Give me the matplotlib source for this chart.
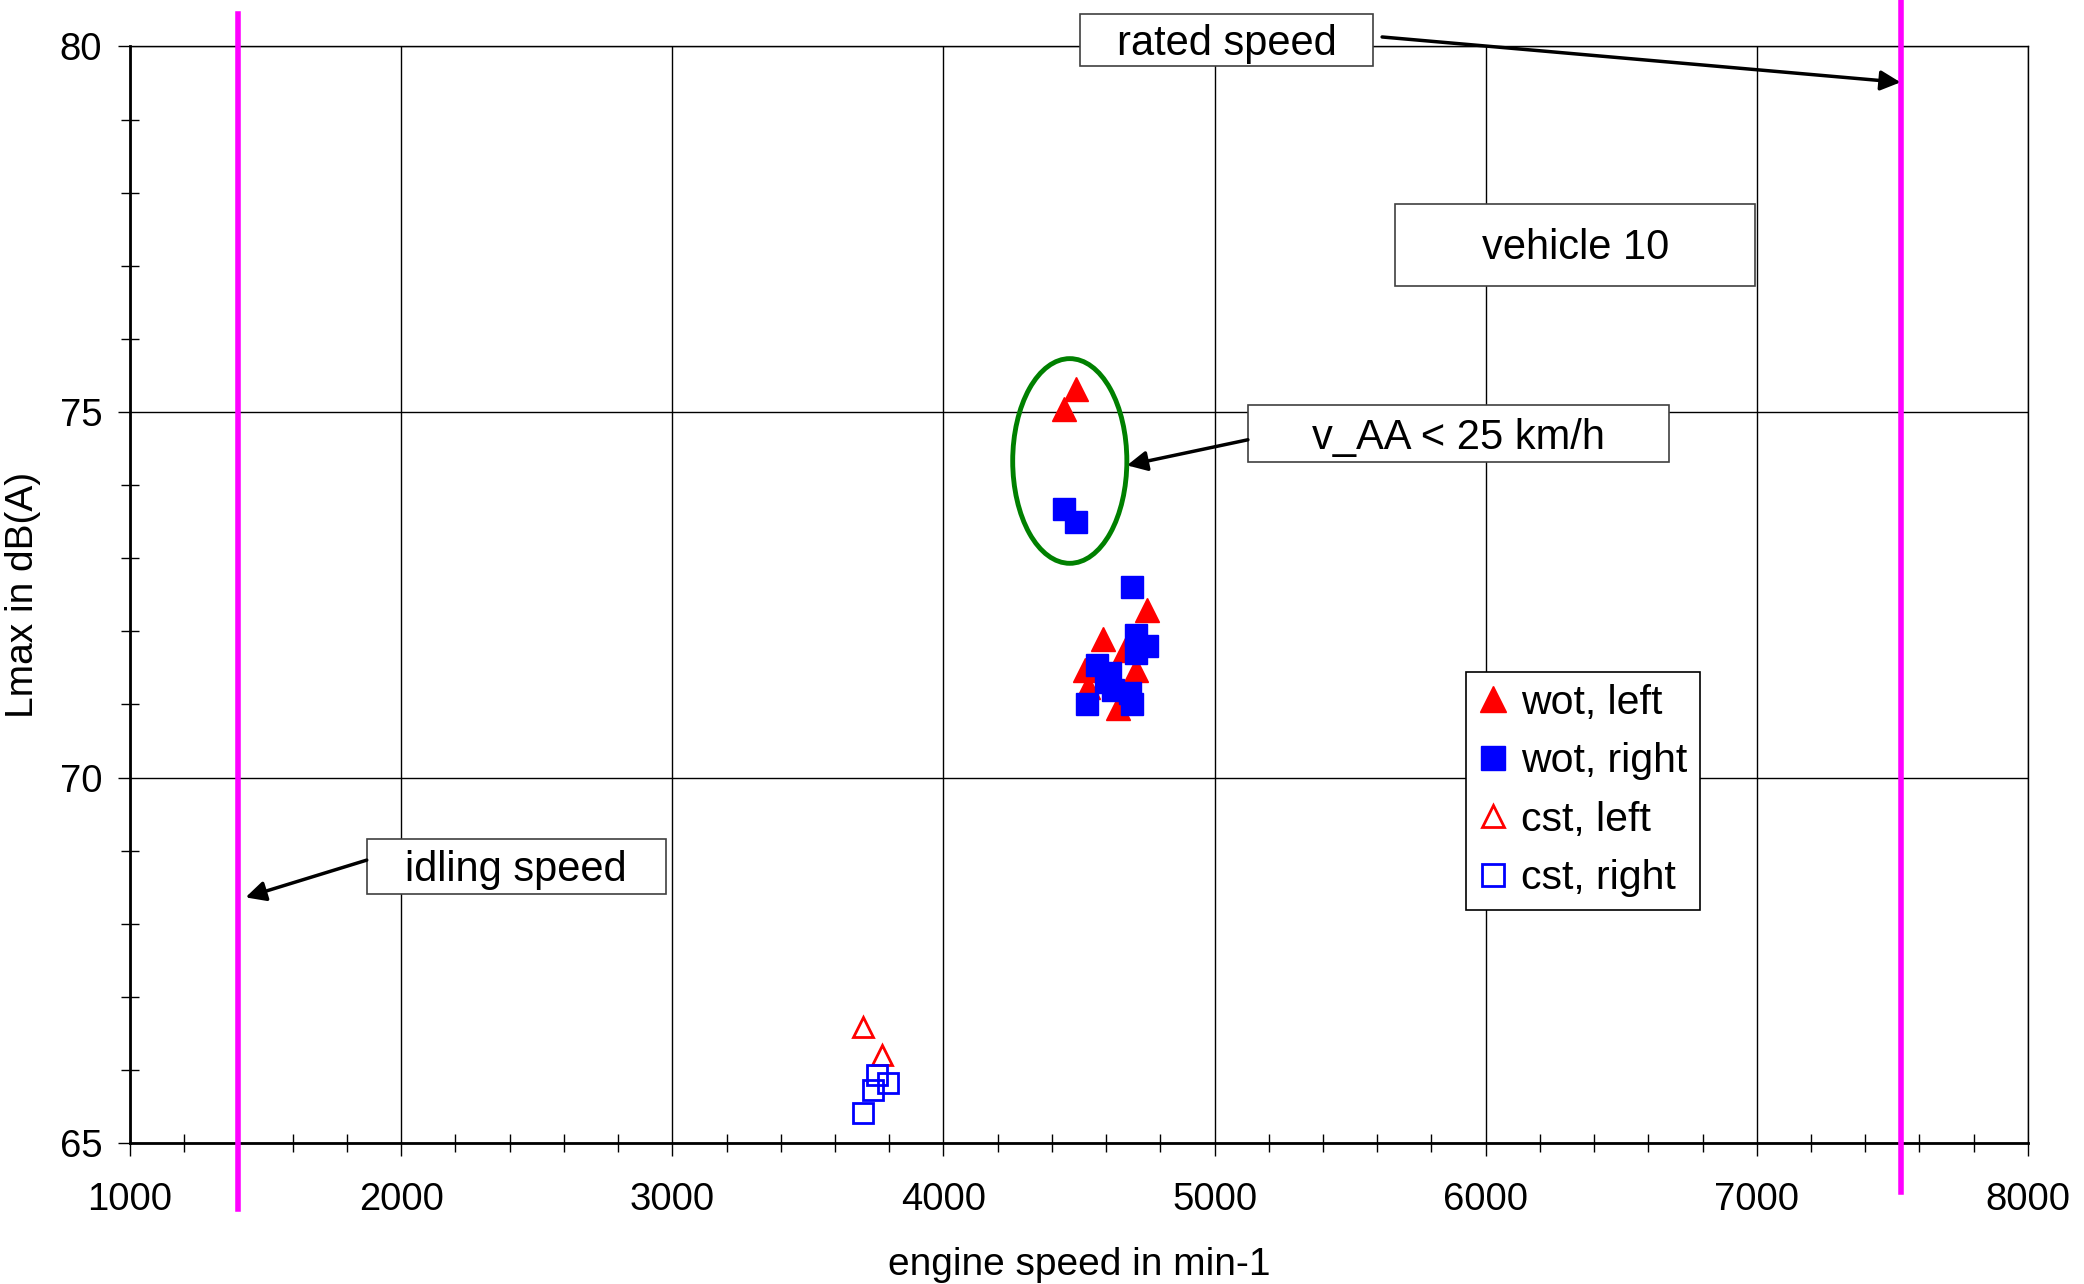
import matplotlib
matplotlib.use('Agg')
from matplotlib import pyplot as plt
from matplotlib.patches import Ellipse, Rectangle
from matplotlib.ticker import MultipleLocator

plt.rcParams['font.family'] = ['Liberation Sans', 'DejaVu Sans']

# engine speed (min-1) and Lmax (dB(A))
wot_left_x = [4490, 4446, 4752, 4590, 4522, 4712, 4670, 4533, 4645]
wot_left_y = [75.31, 75.04, 72.29, 71.89, 71.47, 71.47, 71.74, 71.24, 70.95]
wot_right_x = [4446, 4490, 4694, 4712, 4750, 4712, 4565, 4614, 4531, 4688, 4694, 4627, 4600]
wot_right_y = [73.67, 73.49, 72.61, 71.95, 71.80, 71.70, 71.54, 71.43, 71.01, 71.15, 71.01, 71.20, 71.30]
cst_left_x = [3704, 3772]
cst_left_y = [66.59, 66.20]
cst_right_x = [3754, 3797, 3741, 3702]
cst_right_y = [65.93, 65.82, 65.72, 65.41]

idle_speed = 1400
rated_speed = 7530

fig = plt.figure(figsize=(20.84, 12.84), dpi=100)
ax = fig.add_axes([0.0624, 0.1098, 0.9107, 0.854])
ax.set_xlim(1000, 8000)
ax.set_ylim(65, 80)

ax.xaxis.set_major_locator(MultipleLocator(1000))
ax.xaxis.set_minor_locator(MultipleLocator(200))
ax.yaxis.set_major_locator(MultipleLocator(5))
ax.yaxis.set_minor_locator(MultipleLocator(1))
ax.grid(True, which='major', color='black', linewidth=1.0)
ax.set_axisbelow(True)
ax.tick_params(which='major', direction='out', length=9, width=1, labelsize=27.5)
ax.tick_params(axis='x', which='major', pad=19)
ax.tick_params(axis='y', which='major', pad=11)
ax.tick_params(which='minor', direction='inout', length=13, width=1)
for s in ['left', 'bottom']:
    ax.spines[s].set_linewidth(2)
for s in ['top', 'right']:
    ax.spines[s].set_linewidth(1)

# idling / rated speed lines, running past the plot area
ax.axvline(idle_speed, ymin=-0.06, ymax=1.03, color='#FF00FF', linewidth=4, clip_on=False, zorder=3)
ax.axvline(rated_speed, ymin=-0.045, ymax=1.045, color='#FF00FF', linewidth=4, clip_on=False, zorder=3)

ax.plot(wot_left_x, wot_left_y, '^', color='red', markersize=17, linestyle='none', label='wot, left', zorder=4)
ax.plot(wot_right_x, wot_right_y, 's', color='blue', markersize=16, linestyle='none', label='wot, right', zorder=5)
ax.plot(cst_left_x, cst_left_y, '^', color='red', markerfacecolor='white', markeredgewidth=2,
        markersize=15, linestyle='none', label='cst, left', zorder=4)
ax.plot(cst_right_x, cst_right_y, 's', color='blue', markerfacecolor='none', markeredgewidth=2,
        markersize=15, linestyle='none', label='cst, right', zorder=5)

ax.add_patch(Ellipse((4466, 74.33), 421, 2.8, fill=False, edgecolor='#008000', linewidth=3.5, zorder=6))

def label_box(x0, x1, y0, y1, text):
    ax.add_patch(Rectangle((x0, y0), x1 - x0, y1 - y0, facecolor='white', edgecolor='#404040',
                           linewidth=1.2, clip_on=False, zorder=7))
    ax.text((x0 + x1) / 2, (y0 + y1) / 2 - 0.05, text, fontsize=30, ha='center', va='center', zorder=8)

def arrow(x0, y0, x1, y1):
    ax.annotate('', xy=(x1, y1), xytext=(x0, y0), annotation_clip=False, zorder=8,
                arrowprops=dict(arrowstyle='-|>', color='black', linewidth=2.5, mutation_scale=30,
                                shrinkA=0, shrinkB=0))

label_box(4505, 5583, 79.73, 80.45, 'rated speed')
label_box(5667, 6995, 76.73, 77.85, 'vehicle 10')
label_box(5123, 6676, 74.31, 75.09, 'v_AA < 25 km/h')
label_box(1873, 2975, 68.40, 69.16, 'idling speed')
arrow(5618, 80.13, 7530, 79.51)
arrow(5123, 74.62, 4677, 74.27)
arrow(1873, 68.87, 1426, 68.36)

leg = ax.legend(loc='upper left', bbox_to_anchor=(0.704, 0.430), borderaxespad=0, fontsize=29.5,
                frameon=True, fancybox=False, edgecolor='black', framealpha=1, markerscale=1.1,
                handlelength=0.7, handletextpad=0.35, labelspacing=0.5, borderpad=0.3)
leg.get_frame().set_linewidth(1.2)
leg.set_zorder(9)

ax.set_xlabel('engine speed in min-1', fontsize=28)
ax.set_ylabel('Lmax in dB(A)', fontsize=28)
ax.xaxis.set_label_coords(0.5, -0.095)
ax.yaxis.set_label_coords(-0.047, 0.5)

fig.savefig('out.png', dpi=100)
